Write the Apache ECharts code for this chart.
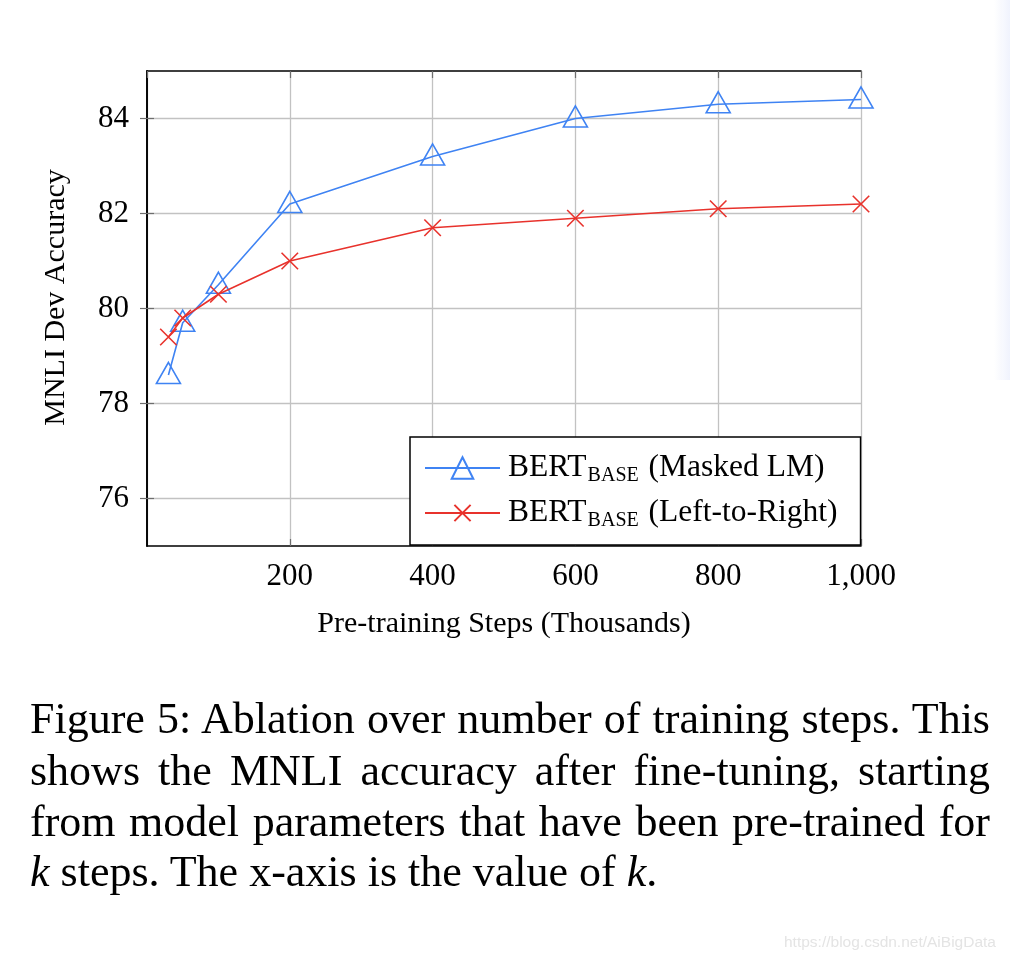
<!DOCTYPE html>
<html><head><meta charset="utf-8">
<script src="https://cdn.jsdelivr.net/npm/echarts@6/dist/echarts.min.js"></script>
<style>
html,body{margin:0;padding:0;background:#fff;}
#chart{position:absolute;left:0;top:0;width:1010px;height:962px;}
.cap{position:absolute;left:30px;width:960px;font-family:'Liberation Serif','Times New Roman',serif;font-size:44px;line-height:52px;color:#000;}
.j{text-align:justify;text-align-last:justify;}
.wm{position:absolute;left:784px;top:933px;font-family:'Liberation Sans',Arial,sans-serif;font-size:15.5px;color:#e4e4e4;}
.strip{position:absolute;left:994px;top:0;width:16px;height:380px;background:linear-gradient(to right,rgba(255,255,255,0),#f0f3fd);}
</style></head><body>
<div id="chart"></div>
<div class="strip"></div>
<div class="cap j" style="top:693px">Figure 5: Ablation over number of training steps. This</div>
<div class="cap j" style="top:745px">shows the MNLI accuracy after fine-tuning, starting</div>
<div class="cap j" style="top:796px">from model parameters that have been pre-trained for</div>
<div class="cap" style="top:846px"><i>k</i> steps. The x-axis is the value of <i>k</i>.</div>
<div class="wm">https://blog.csdn.net/AiBigData</div>
<script>
const xSteps = [30, 50, 100, 200, 400, 600, 800, 1000];
const maskedLM = [78.6, 79.7, 80.5, 82.2, 83.2, 84.0, 84.3, 84.4];
const leftToRight = [79.4, 79.8, 80.3, 81.0, 81.7, 81.9, 82.1, 82.2];
const yTicks = [76, 78, 80, 82, 84];
const seriesNames = ['Masked LM', 'Left-to-Right'];
const xTitle = 'Pre-training Steps (Thousands)';
const yTitle = 'MNLI Dev Accuracy';

const BLUE = '#3f83f3';
const RED = '#e8322c';
const FONT = "'Liberation Serif','Times New Roman',serif";
const GRID = '#c2c2c2';
const TICK = '#6e6e6e';

function commas(v) { return String(v).replace(/\B(?=(\d{3})+(?!\d))/g, ','); }

const chart = echarts.init(document.getElementById('chart'), null, {renderer: 'canvas'});
const xBase = {
  type: 'value', min: 0, max: 1000, interval: 200,
  axisLine: {show: true, lineStyle: {color: '#000', width: 1.6}},
  axisTick: {show: true, inside: true, length: 7, lineStyle: {color: TICK, width: 1.2}}
};
const yBase = {
  type: 'value', min: 75, max: 85, splitNumber: 5,
  axisLine: {show: true, lineStyle: {color: '#000', width: 1.6}},
  axisTick: {show: true, inside: true, length: 7, customValues: yTicks, lineStyle: {color: TICK, width: 1.2}}
};
const option = {
  animation: false,
  backgroundColor: '#fff',
  grid: {left: 147, top: 71, width: 714, height: 475, containLabel: false},
  xAxis: [
    Object.assign({}, xBase, {
      position: 'bottom',
      name: xTitle, nameLocation: 'middle', nameGap: 63,
      nameTextStyle: {fontFamily: FONT, fontSize: 30, color: '#000'},
      axisLabel: {showMinLabel: false, margin: 15, fontFamily: FONT, fontSize: 31, color: '#000', formatter: commas},
      splitLine: {show: true, lineStyle: {color: GRID, width: 1.3}}
    }),
    Object.assign({}, xBase, {
      position: 'top',
      axisLabel: {show: false},
      splitLine: {show: false}
    })
  ],
  yAxis: [
    Object.assign({}, yBase, {
      position: 'left',
      name: yTitle, nameLocation: 'middle', nameGap: 76, nameRotate: 90,
      nameTextStyle: {fontFamily: FONT, fontSize: 30, color: '#000', padding: [0, 0, 0, 22]},
      axisLabel: {margin: 18, fontFamily: FONT, fontSize: 31, color: '#000', customValues: yTicks},
      splitLine: {show: true, lineStyle: {color: GRID, width: 1.3}}
    }),
    Object.assign({}, yBase, {
      position: 'right',
      axisLabel: {show: false},
      splitLine: {show: false}
    })
  ],
  legend: {
    orient: 'vertical', left: 410, top: 437,
    padding: [13, 23, 14, 14], itemGap: 9,
    itemWidth: 75, itemHeight: 27,
    backgroundColor: '#fff', borderColor: '#000', borderWidth: 1.5, borderRadius: 0,
    data: seriesNames,
    formatter: function (name) { return '{a|BERT}{b|BASE}{a| (' + name + ')}'; },
    textStyle: {
      color: '#000', fontFamily: FONT, fontSize: 31.5, lineHeight: 36, padding: [0, 0, 0, 3],
      rich: {
        a: {fontFamily: FONT, fontSize: 31.5, lineHeight: 36, height: 36, color: '#000', verticalAlign: 'middle'},
        b: {fontFamily: FONT, fontSize: 20, lineHeight: 20, color: '#000', verticalAlign: 'bottom', padding: [0, 2, 0, 1]}
      }
    }
  },
  series: [
    {
      name: seriesNames[0], type: 'line', xAxisIndex: 0, yAxisIndex: 0,
      data: xSteps.map((x, i) => [x, maskedLM[i]]),
      symbol: 'triangle', symbolSize: [24, 21], symbolOffset: [0, -2],
      lineStyle: {color: BLUE, width: 1.6},
      itemStyle: {color: 'rgba(255,255,255,0)', borderColor: BLUE, borderWidth: 1.6},
      emphasis: {disabled: true}, z: 3
    },
    {
      name: seriesNames[1], type: 'line', xAxisIndex: 0, yAxisIndex: 0,
      data: xSteps.map((x, i) => [x, leftToRight[i]]),
      symbol: 'path://M0,0M24,24M3,3L21,21M21,3L3,21', symbolSize: 22,
      lineStyle: {color: RED, width: 1.6},
      itemStyle: {color: 'rgba(255,255,255,0)', borderColor: RED, borderWidth: 1.6},
      emphasis: {disabled: true}, z: 4
    }
  ]
};
chart.setOption(option);
</script>
</body></html>
